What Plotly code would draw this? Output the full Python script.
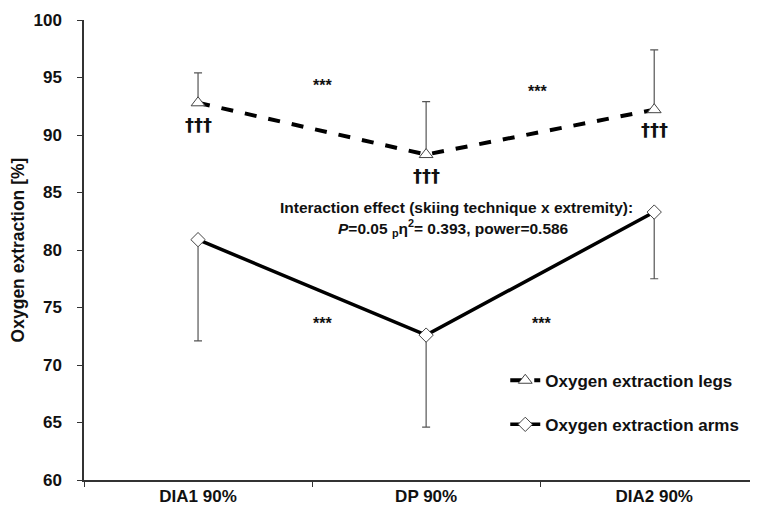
import plotly.graph_objects as go

categories = ["DIA1 90%", "DP 90%", "DIA2 90%"]
legs_mean = [92.8, 88.3, 92.2]
legs_sd_up = [2.6, 4.6, 5.2]
arms_mean = [80.9, 72.6, 83.3]
arms_sd_down = [8.8, 8.0, 5.8]
y_ticks = [60, 65, 70, 75, 80, 85, 90, 95, 100]

FONT = "Liberation Sans, Arial, sans-serif"

fig = go.Figure()

fig.add_trace(go.Scatter(
    x=categories, y=legs_mean, mode="lines+markers",
    name="<b>Oxygen extraction legs</b>", legendgroup="legs",
    line=dict(color="black", width=4, dash="dash"),
    marker=dict(symbol="triangle-up", size=12, color="white",
                line=dict(color="#444", width=1)),
    error_y=dict(type="data", symmetric=False, array=legs_sd_up,
                 arrayminus=[0, 0, 0], color="#555", thickness=1.2, width=4),
))
fig.add_trace(go.Scatter(
    x=categories, y=arms_mean, mode="lines+markers",
    name="<b>Oxygen extraction arms</b>", legendgroup="arms",
    line=dict(color="black", width=3.5),
    marker=dict(symbol="diamond", size=11, color="white",
                line=dict(color="#444", width=1)),
    error_y=dict(type="data", symmetric=False, array=[0, 0, 0],
                 arrayminus=arms_sd_down, color="#555", thickness=1.2, width=4),
))

def txt(x, y, s, size=16, family=FONT, **kw):
    fig.add_annotation(x=x, y=y, xref="x", yref="y", text=s, showarrow=False,
                       font=dict(family=family, size=size, color="#111"), **kw)

for x, y in [(0.547, 94.3), (1.49, 93.8), (0.547, 73.6), (1.505, 73.6)]:
    txt(x, y, "<b>***</b>", size=16)
for x, y in [(0, 90.9), (1, 86.5), (2, 90.5)]:
    txt(x, y, "<b>†††</b>", size=18, family="DejaVu Sans, sans-serif")

txt(1.135, 83.7, "<b>Interaction effect (skiing technique x extremity):</b>", size=15.5)
txt(1.12, 81.9, "<b><i>P</i>=0.05 <sub>p</sub>η<sup>2</sup>= 0.393, power=0.586</b>", size=15.5)

fig.update_layout(
    width=750, height=498,
    margin=dict(l=76, r=0, t=12, b=26),
    paper_bgcolor="white", plot_bgcolor="white",
    font=dict(family=FONT, size=17, color="#111"),
    showlegend=True,
    legend=dict(x=0.625, y=0.255, xanchor="left", yanchor="top",
                bgcolor="rgba(0,0,0,0)", tracegroupgap=19,
                font=dict(family=FONT, size=17, color="#111"),
                itemwidth=30),
)
fig.update_xaxes(
    type="category", range=[-0.5, 2.455], tickson="boundaries",
    ticks="outside", ticklen=5, tickwidth=1.2, tickcolor="#333",
    showline=True, linecolor="#333", linewidth=1.5, showgrid=False,
    tickfont=dict(family=FONT, size=17, color="#111"),
    tickvals=categories, ticktext=["<b>%s</b>" % c for c in categories],
)
fig.update_yaxes(
    range=[60, 100], tickvals=y_ticks, ticktext=["<b>%d</b>" % v for v in y_ticks],
    ticks="outside", ticklen=5, tickwidth=1.2, tickcolor="#333",
    showline=True, linecolor="#333", linewidth=1.5, showgrid=False, zeroline=False,
    tickfont=dict(family=FONT, size=17, color="#111"), ticklabelstandoff=12,
    title=dict(text="<b>Oxygen extraction [%]</b>", font=dict(family=FONT, size=17.5, color="#111"),
               standoff=12),
)

fig.write_html("out.html")
